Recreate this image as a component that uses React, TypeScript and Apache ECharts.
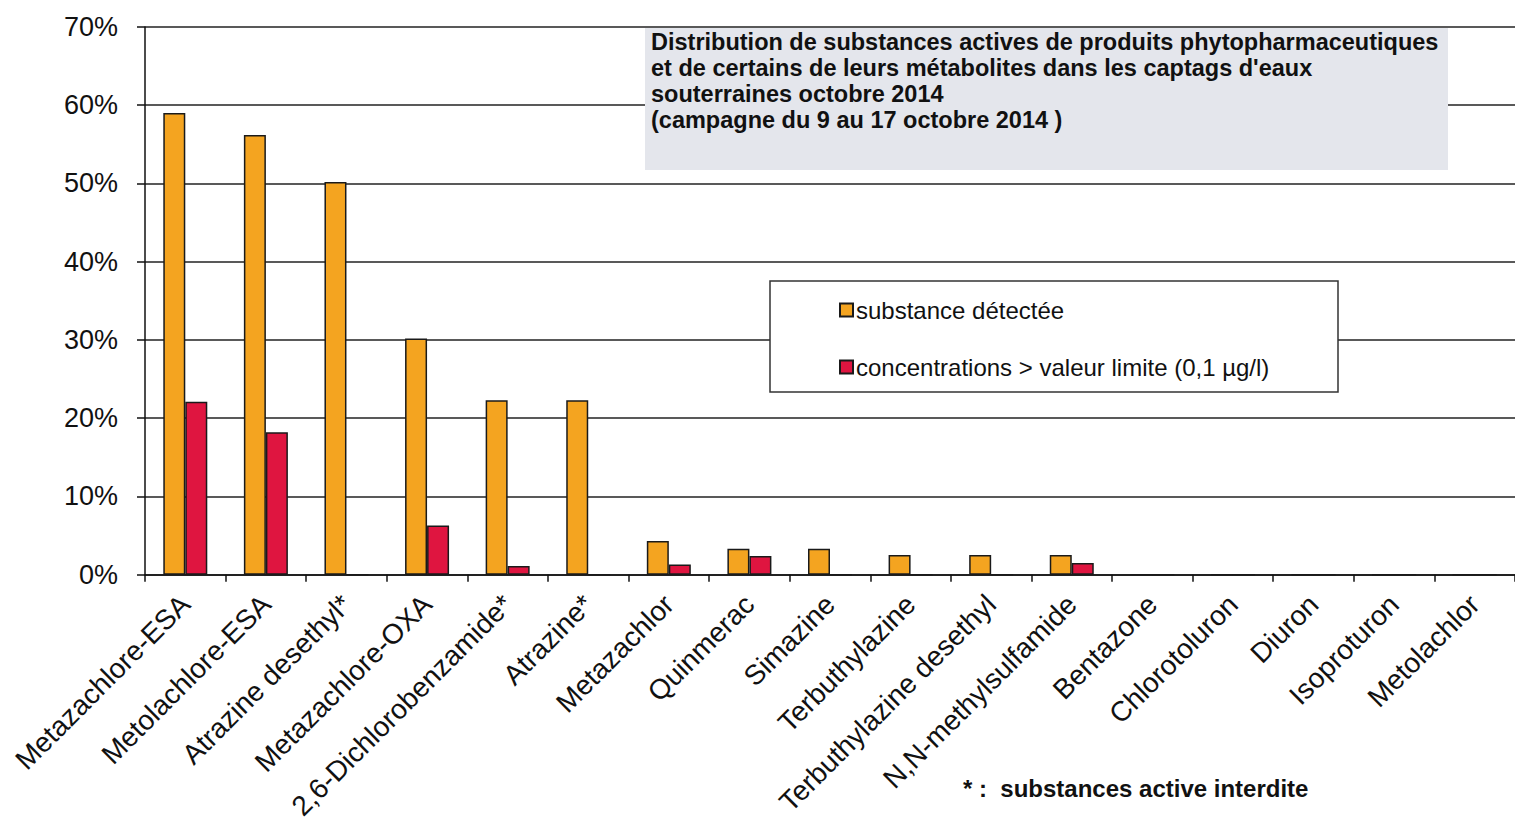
import React, { useEffect, useRef } from "react";
import * as echarts from "echarts";

const categories = [
  "Metazachlore-ESA",
  "Metolachlore-ESA",
  "Atrazine desethyl*",
  "Metazachlore-OXA",
  "2,6-Dichlorobenzamide*",
  "Atrazine*",
  "Metazachlor",
  "Quinmerac",
  "Simazine",
  "Terbuthylazine",
  "Terbuthylazine desethyl",
  "N,N-methylsulfamide",
  "Bentazone",
  "Chlorotoluron",
  "Diuron",
  "Isoproturon",
  "Metolachlor",
];

const detected = [59.0, 56.2, 50.2, 30.2, 22.3, 22.3, 4.3, 3.3, 3.3, 2.5, 2.5, 2.5, 0, 0, 0, 0, 0];
const aboveLimit = [22.1, 18.2, 0, 6.3, 1.1, 0, 1.3, 2.4, 0, 0, 0, 1.5, 0, 0, 0, 0, 0];

const seriesNames = ["substance détectée", "concentrations > valeur limite (0,1 µg/l)"];
const titleLines = [
  "Distribution de substances actives de produits phytopharmaceutiques",
  "et de certains de leurs métabolites dans les captags d'eaux",
  "souterraines octobre 2014",
  "(campagne du 9 au 17 octobre 2014 )",
];
const footnote = "* :  substances active interdite";

const FONT = "'Liberation Sans', Arial, sans-serif";

export default function App() {
  const ref = useRef<HTMLDivElement>(null);
  useEffect(() => {
    if (!ref.current) return;
    const chart = echarts.init(ref.current, null, { renderer: "svg" });
    chart.setOption({
      animation: false,
      backgroundColor: "#ffffff",
      textStyle: { fontFamily: FONT },
      grid: { left: 145, right: 0, top: 27, bottom: 246, containLabel: false },
      xAxis: {
        type: "category",
        data: categories,
        axisLine: { lineStyle: { color: "#111", width: 1.5 } },
        axisTick: { show: true, length: 7, alignWithLabel: false, lineStyle: { color: "#111", width: 1.5 } },
        axisLabel: {
          interval: 0,
          rotate: 45,
          fontSize: 28,
          color: "#111",
          fontFamily: FONT,
          margin: 25,
        },
      },
      yAxis: {
        type: "value",
        min: 0,
        max: 70,
        interval: 10,
        axisLine: { show: true, lineStyle: { color: "#111", width: 1.5 } },
        axisTick: { show: true, length: 8, lineStyle: { color: "#111", width: 1.5 } },
        splitLine: { show: true, lineStyle: { color: "#222", width: 1.5 } },
        axisLabel: {
          formatter: "{value}%",
          fontSize: 27,
          color: "#111",
          fontFamily: FONT,
          margin: 27,
        },
      },
      legend: {
        orient: "vertical",
        left: 834,
        top: 293,
        itemGap: 33,
        itemWidth: 13,
        itemHeight: 13,
        z: 20,
        icon: "rect",
        textStyle: { fontSize: 24, color: "#111", fontFamily: FONT, padding: [0, 0, 0, -2] },
        data: seriesNames,
      },
      series: [
        {
          name: seriesNames[0],
          type: "bar",
          data: detected,
          barWidth: 22,
          barGap: "0%",
          itemStyle: { color: "#F4A420", borderColor: "#1a1a1a", borderWidth: 1.5 },
        },
        {
          name: seriesNames[1],
          type: "bar",
          data: aboveLimit,
          barWidth: 22,
          barGap: "0%",
          itemStyle: { color: "#DF1540", borderColor: "#1a1a1a", borderWidth: 1.5 },
        },
      ],
      graphic: [
        {
          type: "rect",
          z: 10,
          shape: { x: 645, y: 28, width: 803, height: 142 },
          style: { fill: "#E4E6EC", stroke: "none" },
        },
        {
          type: "text",
          z: 11,
          x: 651,
          y: 29,
          style: {
            text: titleLines.join("\n"),
            font: `bold 23.5px ${FONT}`,
            fill: "#111",
            lineHeight: 26,
          },
        },
        {
          type: "rect",
          z: 10,
          shape: { x: 770, y: 281, width: 568, height: 111 },
          style: { fill: "#ffffff", stroke: "#333", lineWidth: 1.5 },
        },
        {
          type: "text",
          z: 11,
          x: 963,
          y: 776,
          style: {
            text: footnote,
            font: `bold 24px ${FONT}`,
            fill: "#111",
          },
        },
      ],
    });
    return () => chart.dispose();
  }, []);
  return <div ref={ref} style={{ width: 1515, height: 823, position: "absolute", left: 0, top: 0 }} />;
}
